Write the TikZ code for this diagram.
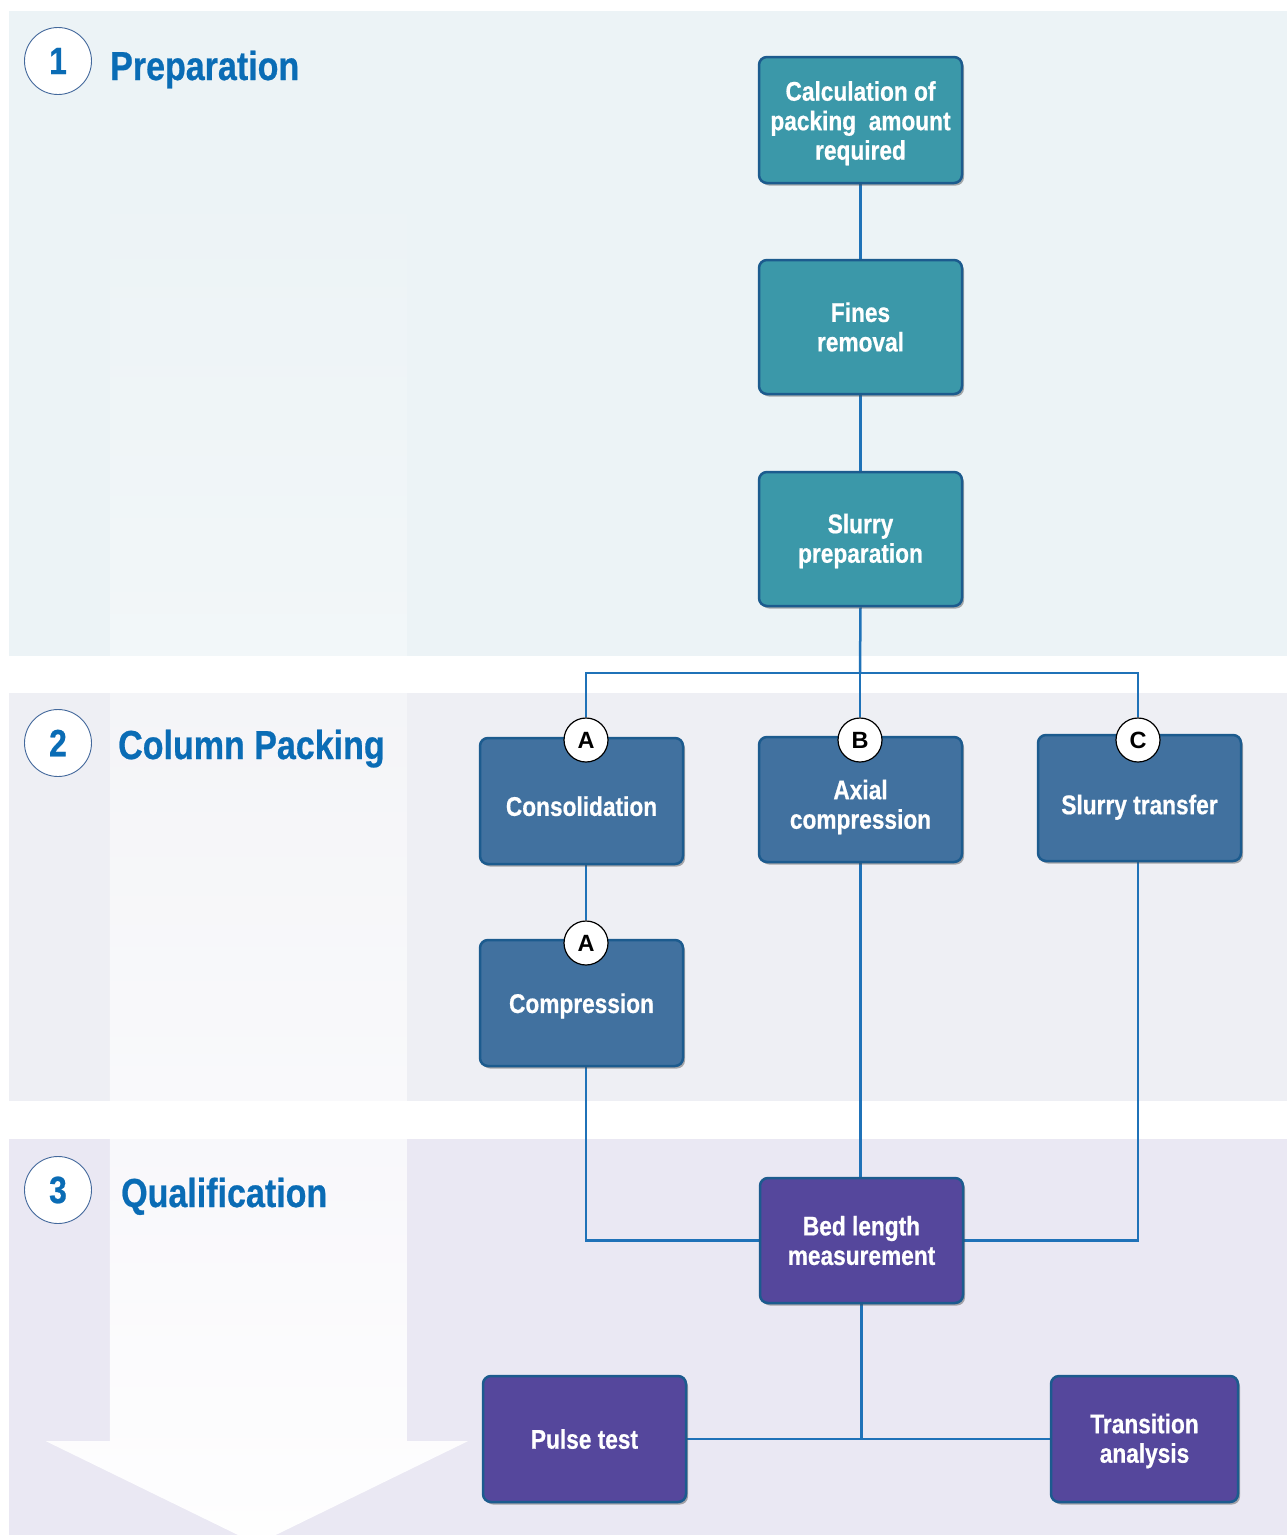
\documentclass[tikz,border=0pt]{standalone}
\usepackage{fontspec}
\setmainfont{Liberation Sans}
\newfontfamily\cfont{Liberation Sans}[FakeStretch=0.84,FakeBold=0.6]
\newfontfamily\lfont{Liberation Sans}
\usetikzlibrary{shadows,fadings,calc}
\definecolor{bandA}{HTML}{ECF3F6}
\definecolor{bandB}{HTML}{EEEFF4}
\definecolor{bandC}{HTML}{EAE8F3}
\definecolor{teal}{HTML}{3B98A9}
\definecolor{bluebox}{HTML}{41719F}
\definecolor{purplebox}{HTML}{55479C}
\definecolor{edge}{HTML}{1C5B8E}
\definecolor{conn}{HTML}{1F72B8}
\definecolor{titleblue}{HTML}{0A6CB5}
\definecolor{ringcol}{HTML}{44699C}
\tikzfading[name=arrowfade, top color=transparent!100, bottom color=transparent!2]
\pgfdeclarelayer{bg}
\pgfdeclarelayer{lines}
\pgfsetlayers{bg,lines,main}
\begin{document}
\begin{tikzpicture}[x=1pt,y=-1pt,
  box/.style={rectangle, rounded corners=8pt, minimum width=203pt, minimum height=126pt,
    draw=edge, line width=2.5pt, text=white, align=center, inner sep=2pt,
    font=\cfont\bfseries\fontsize{27}{29.5}\selectfont,
    drop shadow={shadow xshift=2pt, shadow yshift=-2.5pt, opacity=0.45, fill=black!70}},
  tealbox/.style={box, fill=teal},
  bluebx/.style={box, fill=bluebox},
  purplebx/.style={box, fill=purplebox},
  letter/.style={circle, draw=black, line width=1.2pt, fill=white, minimum size=44pt, inner sep=0pt,
    font=\lfont\bfseries\fontsize{23.5}{23.5}\selectfont},
  ring/.style={circle, draw=ringcol, line width=0.9pt, fill=white, minimum size=67pt, inner sep=0pt,
    text=titleblue, font=\cfont\bfseries\fontsize{38}{38}\selectfont},
  heading/.style={anchor=base west, inner sep=0pt, text=titleblue, font=\cfont\bfseries\fontsize{40.5}{44}\selectfont},
  link/.style={draw=conn, line width=2.5pt}
]
\useasboundingbox (0,0) rectangle (1287,1535);
\begin{pgfonlayer}{bg}
  \fill[white] (0,0) rectangle (1287,1535);
  \fill[bandA] (9,11) rectangle (1287,656);
  \fill[bandB] (9,693) rectangle (1287,1101);
  \fill[bandC] (9,1139) rectangle (1287,1535);
  \begin{scope}
    \clip (0,0) rectangle (1287,1535);
    \fill[white, path fading=arrowfade] (110,140) -- (407,140) -- (407,1441) -- (468,1441) -- (257,1544) -- (46,1441) -- (110,1441) -- cycle;
  \end{scope}
\end{pgfonlayer}

% headings
\node[ring] (n1) at (58,61) {1};
\node[ring] (n2) at (58,743) {2};
\node[ring] (n3) at (58,1190) {3};
\node[heading] (h1) at (110,80) {Preparation};
\node[heading] (h2) at (118,759) {Column Packing};
\node[heading] (h3) at (121,1207) {Qualification};

% boxes
\node[tealbox, text height=85pt] (calc) at (860.5,120) {Calculation of\\packing\ \ amount\\required};
\node[tealbox, minimum height=134pt] (fines) at (860.5,327) {Fines\\removal};
\node[tealbox, minimum height=134pt, text height=53pt] (prep) at (860.5,539) {Slurry\\preparation};
\node[bluebx, text height=30pt] (cons) at (581.5,801) {Consolidation};
\node[bluebx, minimum height=125pt, text height=64pt] (axial) at (860.5,799.5) {Axial\\compression};
\node[bluebx, text height=38pt] (trans) at (1139.5,798) {Slurry transfer};
\node[bluebx, text height=25.5pt] (comp) at (581.5,1003) {Compression};
\node[purplebx, minimum height=125pt] (bed) at (861.5,1240.5) {Bed length\\measurement};
\node[purplebx] (pulse) at (584.5,1439) {Pulse test};
\node[purplebx, minimum width=187pt, text height=53pt] (trana) at (1144.5,1439) {Transition\\analysis};

% letter markers
\node[letter] (cA) at (586,740) {A};
\node[letter] (cB) at (860,740) {B};
\node[letter] (cC) at (1138,740) {C};
\node[letter] (cA2) at (586,943) {A};

\coordinate (split) at (860,673);

\begin{pgfonlayer}{lines}
  \draw[link] (calc.south) -- (fines.north);
  \draw[link] (fines.south) -- (prep.north);
  \draw[link] (prep.south) -- (split);
  \draw[link] (cA.north) |- (split) -| (cC.north);
  \draw[link] (split) -- (cB.north);
  \draw[link] (cA.center |- cons.south) -- (cA2.north);
  \draw[link] (cA2.center |- comp.south) |- (bed.west);
  \draw[link] (axial.south) -- (axial.south |- bed.north);
  \draw[link] (cC.center |- trans.south) |- (bed.east);
  \draw[link] (bed.south) -- (bed.south |- pulse.east);
  \draw[link] (pulse.east) -- (trana.west);
\end{pgfonlayer}
\end{tikzpicture}
\end{document}
